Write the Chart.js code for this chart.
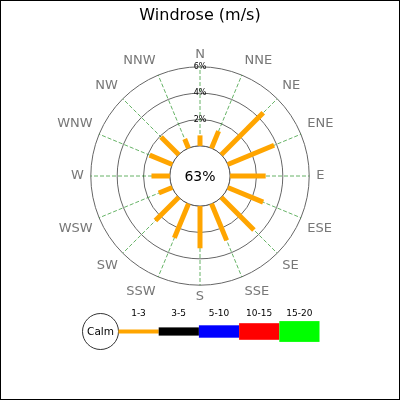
<!DOCTYPE html>
<html>
<head>
<meta charset="utf-8">
<script src="https://cdn.jsdelivr.net/npm/chart.js@4"></script>
<style>
  html, body { margin: 0; padding: 0; background: #fff; }
  canvas { display: block; }
</style>
</head>
<body>
<canvas id="myChart" width="400" height="400"></canvas>
<script>
// directions, clockwise from north
const directions = ['N', 'NNE', 'NE', 'ENE', 'E', 'ESE', 'SE', 'SSE',
                    'S', 'SSW', 'SW', 'WSW', 'W', 'WNW', 'NW', 'NNW'];
// frequency (%) of the 1-3 m/s class per direction
const speed1to3 = [0.8, 1.4, 4.5, 3.8, 2.7, 2.9, 3.5, 3.0,
                   3.2, 2.8, 2.5, 1.1, 1.4, 1.85, 1.9, 0.75];
const calmPercent = 63;
const ringTicks = [0, 2, 4, 6];
const speedBins = ['1-3', '3-5', '5-10', '10-15', '15-20'];
const binColors = ['#FFA500', '#000000', '#0000FF', '#FF0000', '#00FF00'];

const FONT = 'DejaVu Sans';

const windrosePlugin = {
    id: 'windrose',
    afterDatasetsDraw: function (chart) {
        const ctx = chart.ctx;
        const scale = chart.scales.r;
        const calmR = scale.getDistanceFromCenterForValue(0);
        ctx.save();
        // calm circle covers the middle of the spokes
        ctx.beginPath();
        ctx.arc(scale.xCenter, scale.yCenter, calmR, 0, Math.PI * 2);
        ctx.fillStyle = '#fff';
        ctx.fill();
        ctx.strokeStyle = '#555';
        ctx.lineWidth = 1;
        ctx.stroke();
        // one bar per direction, from the calm circle outwards
        ctx.strokeStyle = binColors[0];
        ctx.lineWidth = 5;
        ctx.lineCap = 'butt';
        speed1to3.forEach(function (v, i) {
            const p0 = scale.getPointPositionForValue(i, 0);
            const p1 = scale.getPointPositionForValue(i, v);
            ctx.beginPath();
            ctx.moveTo(p0.x, p0.y);
            ctx.lineTo(p1.x, p1.y);
            ctx.stroke();
        });
        ctx.fillStyle = '#000';
        ctx.font = '14px "' + FONT + '"';
        ctx.textAlign = 'center';
        ctx.textBaseline = 'middle';
        ctx.fillText(calmPercent + '%', scale.xCenter, scale.yCenter + 1);
        ctx.restore();
    },
    afterDraw: function (chart) {
        const ctx = chart.ctx;
        ctx.save();
        // legend: calm circle + speed classes
        const cy = 331.5;
        ctx.beginPath();
        ctx.arc(100.5, cy, 18, 0, Math.PI * 2);
        ctx.strokeStyle = '#000';
        ctx.lineWidth = 0.8;
        ctx.stroke();
        ctx.fillStyle = '#000';
        ctx.font = '10.5px "' + FONT + '"';
        ctx.textAlign = 'center';
        ctx.textBaseline = 'middle';
        ctx.fillText('Calm', 100.5, cy + 0.5);
        ctx.font = '9px "' + FONT + '"';
        speedBins.forEach(function (label, i) {
            const x0 = 118.5 + i * 40.2;
            const h = 4 + i * 4.2;
            ctx.fillStyle = binColors[i];
            ctx.fillRect(x0, cy - h / 2, 40.2, h);
            ctx.fillStyle = '#000';
            ctx.fillText(label, x0 + 20, 314);
        });
        // frame
        ctx.strokeStyle = '#000';
        ctx.lineWidth = 1;
        ctx.strokeRect(0.5, 0.5, 399, 399);
        ctx.restore();
    }
};

const ctx = document.getElementById('myChart').getContext('2d');
const myChart = new Chart(ctx, {
    type: 'radar',
    data: {
        labels: directions,
        datasets: [{
            label: '1-3',
            data: speed1to3,
            borderWidth: 0,
            pointRadius: 0,
            backgroundColor: 'rgba(0,0,0,0)',
            borderColor: 'rgba(0,0,0,0)'
        }]
    },
    options: {
        responsive: false,
        animation: false,
        layout: {
            padding: { bottom: 95 }
        },
        scales: {
            r: {
                min: -2.28,
                max: 6,
                afterBuildTicks: function (scale) {
                    scale.ticks = ringTicks.map(function (v) { return { value: v }; });
                },
                ticks: {
                    color: '#000',
                    font: { family: FONT, size: 8 },
                    showLabelBackdrop: false,
                    callback: function (v) { return v === 0 ? '' : v + '%'; }
                },
                grid: {
                    circular: true,
                    color: '#666',
                    lineWidth: 1
                },
                angleLines: {
                    color: 'rgba(0,128,0,0.6)',
                    lineWidth: 1,
                    borderDash: [4, 2]
                },
                pointLabels: {
                    color: '#777',
                    padding: function (c) { return (c.index === 0 || c.index === 8) ? -2 : 1; },
                    font: { family: FONT, size: 13 }
                }
            }
        },
        plugins: {
            legend: { display: false },
            tooltip: { enabled: false },
            title: {
                display: true,
                text: 'Windrose (m/s)',
                color: '#000',
                font: { family: FONT, size: 16, weight: 'normal' },
                padding: { top: 6, bottom: 22 }
            }
        }
    },
    plugins: [windrosePlugin]
});
</script>
</body>
</html>
